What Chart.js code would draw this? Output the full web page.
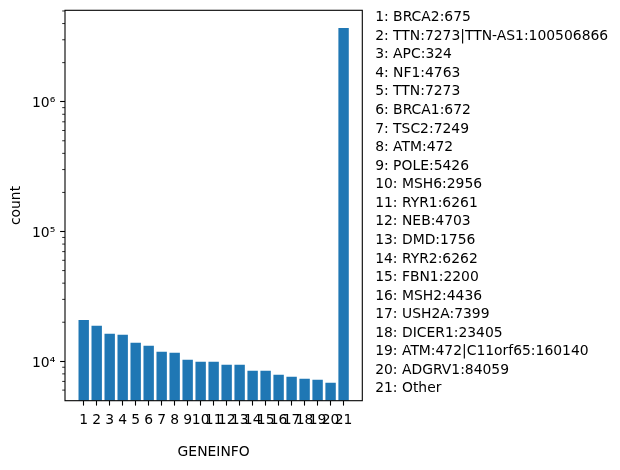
<!DOCTYPE html>
<html><head><meta charset="utf-8">
<script src="https://cdn.jsdelivr.net/npm/chart.js@4"></script>
<style>
html,body{margin:0;padding:0;background:#fff;}
#wrap{position:relative;width:620px;height:470px;overflow:hidden;}
#c{position:absolute;left:0;top:0;}
#legend{position:absolute;left:375.2px;top:7.2px;font-family:'DejaVu Sans';font-size:13.9px;line-height:18.56px;color:#000;white-space:pre;}
</style></head><body>
<div id="wrap"><canvas id="c" width="620" height="470"></canvas><div id="legend"></div></div>
<script>
const categories = [
  'BRCA2:675', 'TTN:7273|TTN-AS1:100506866', 'APC:324', 'NF1:4763', 'TTN:7273',
  'BRCA1:672', 'TSC2:7249', 'ATM:472', 'POLE:5426', 'MSH6:2956',
  'RYR1:6261', 'NEB:4703', 'DMD:1756', 'RYR2:6262', 'FBN1:2200',
  'MSH2:4436', 'USH2A:7399', 'DICER1:23405', 'ATM:472|C11orf65:160140', 'ADGRV1:84059',
  'Other'
];
const counts = [
  20800, 18800, 16300, 16000, 13900,
  13200, 11850, 11650, 10300, 9930,
  9930, 9420, 9420, 8470, 8470,
  7890, 7610, 7340, 7220, 6840,
  3700000
];
const xTickLabels = categories.map((_, i) => String(i + 1));
const yTickValues = [1e4, 1e5, 1e6];
const yTickLabels = ['10⁴', '10⁵', '10⁶'];
const yMinorTicks = [6e3, 7e3, 8e3, 9e3, 2e4, 3e4, 4e4, 5e4, 6e4, 7e4, 8e4, 9e4,
                     2e5, 3e5, 4e5, 5e5, 6e5, 7e5, 8e5, 9e5, 2e6, 3e6, 4e6, 5e6];
const xAxisTitle = 'GENEINFO';
const yAxisTitle = 'count';

document.getElementById('legend').textContent =
  categories.map((c, i) => xTickLabels[i] + ': ' + c).join('\n');

const FS = 13.9;
Chart.defaults.font.family = "'DejaVu Sans'";
Chart.defaults.font.size = FS;
Chart.defaults.color = '#000';

const framePlugin = {
  id: 'frame',
  afterDraw(chart) {
    const {ctx, chartArea: a, scales: {y}} = chart;
    ctx.save();
    ctx.strokeStyle = '#000';
    ctx.lineWidth = 0.83;
    yMinorTicks.forEach(v => {
      if (v < y.min || v > y.max) return;
      const py = y.getPixelForValue(v);
      ctx.beginPath(); ctx.moveTo(a.left - 2.8, py); ctx.lineTo(a.left, py); ctx.stroke();
    });
    ctx.lineWidth = 1.1;
    ctx.strokeRect(a.left, a.top, a.right - a.left, a.bottom - a.top);
    ctx.restore();
  }
};

new Chart(document.getElementById('c'), {
  type: 'bar',
  data: {
    datasets: [{
      data: counts.map((v, i) => ({x: i + 1, y: v})),
      backgroundColor: '#1f77b4',
      borderWidth: 0,
      categoryPercentage: 1,
      barPercentage: 0.8
    }]
  },
  plugins: [framePlugin],
  options: {
    responsive: false,
    animation: false,
    layout: {padding: {left: 0, top: 10.3, right: 257.7, bottom: 0}},
    plugins: {legend: {display: false}, tooltip: {enabled: false}},
    scales: {
      x: {
        type: 'linear',
        bounds: 'data',
        offset: false,
        min: -0.44,
        max: 22.44,
        afterBuildTicks: s => { s.ticks = xTickLabels.map((_, i) => ({value: i + 1})); },
        afterFit: s => { s.height = 69.3; s.paddingLeft = 0; s.paddingRight = 0; },
        grid: {offset: false, drawOnChartArea: false, tickLength: 4.9, tickWidth: 1.1, tickColor: '#000'},
        border: {display: false},
        ticks: {
          autoSkip: false, maxRotation: 0, minRotation: 0, padding: 6,
          callback: (v) => xTickLabels[Math.round(v) - 1] || ''
        },
        title: {display: true, text: xAxisTitle, padding: {top: 0, bottom: 9.7}}
      },
      y: {
        type: 'logarithmic',
        bounds: 'data',
        min: 4972,
        max: 5.06e6,
        afterBuildTicks: s => { s.ticks = yTickValues.map(v => ({value: v, major: true})); },
        afterFit: s => { s.width = 65; s.paddingTop = 0; s.paddingBottom = 0; },
        grid: {drawOnChartArea: false, tickLength: 4.9, tickWidth: 1.1, tickColor: '#000'},
        border: {display: false},
        ticks: {
          autoSkip: false, padding: 4.9, labelOffset: 2,
          callback: (v) => { const k = yTickValues.indexOf(v); return k >= 0 ? yTickLabels[k] : ''; }
        },
        title: {display: true, text: yAxisTitle, padding: {top: 8, bottom: 0}}
      }
    }
  }
});
</script>
</body></html>
